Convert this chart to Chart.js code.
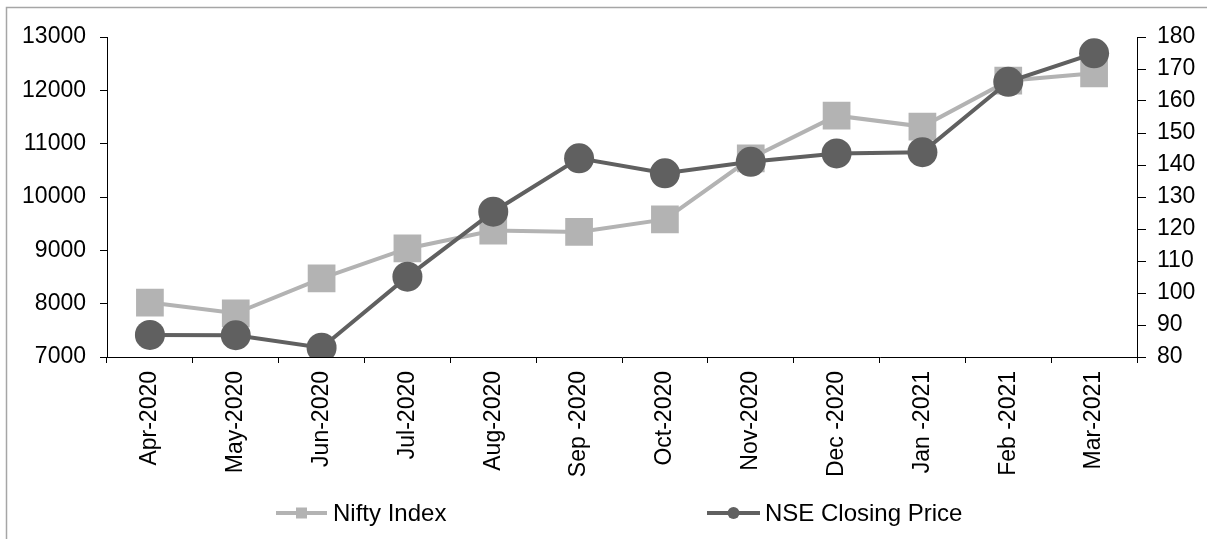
<!DOCTYPE html>
<html>
<head>
<meta charset="utf-8">
<script src="https://cdn.jsdelivr.net/npm/chart.js@4/dist/chart.umd.min.js"></script>
<style>
  html, body { margin: 0; padding: 0; background: #ffffff; }
  #wrap { position: relative; width: 1207px; height: 539px; }
</style>
</head>
<body>
<div id="wrap"><canvas id="c" width="1207" height="539"></canvas></div>
<script>
const categories = ['Apr-2020', 'May-2020', 'Jun-2020', 'Jul-2020', 'Aug-2020', 'Sep -2020',
                    'Oct-2020', 'Nov-2020', 'Dec -2020', 'Jan -2021', 'Feb -2021', 'Mar-2021'];
const niftyIndex = [8020, 7820, 8475, 9035, 9370, 9345, 9580, 10725, 11525, 11320, 12180, 12320];
const nseClosing = [86.9, 86.8, 82.9, 105.1, 125.4, 142.1, 137.4, 141.0, 143.6, 144.0, 166.0, 174.9];
const leftTicks = { min: 7000, max: 13000, step: 1000 };
const rightTicks = { min: 80, max: 180, step: 10 };

const FONT = '"Liberation Sans", Arial, sans-serif';
const NIFTY_COLOR = '#b3b3b3';
const NSE_COLOR = '#606060';

const frame = {
  id: 'frame',
  beforeDraw(chart) {
    const ctx = chart.ctx;
    ctx.save();
    ctx.strokeStyle = '#a6a6a6';
    ctx.lineWidth = 1.5;
    ctx.beginPath();
    ctx.moveTo(6.5, 600);
    ctx.lineTo(6.5, 7.5);
    ctx.lineTo(1300, 7.5);
    ctx.stroke();
    ctx.restore();
  }
};

const legendPlugin = {
  id: 'customLegend',
  afterDraw(chart) {
    const ctx = chart.ctx;
    const items = [
      { ds: chart.data.datasets[0], x0: 276, x1: 327, tx: 333 },
      { ds: chart.data.datasets[1], x0: 707, x1: 760, tx: 765 }
    ];
    const y = 513;
    ctx.save();
    items.forEach(it => {
      const ds = it.ds;
      ctx.strokeStyle = ds.borderColor;
      ctx.lineWidth = 4;
      ctx.beginPath();
      ctx.moveTo(it.x0, y);
      ctx.lineTo(it.x1, y);
      ctx.stroke();
      ctx.fillStyle = ds.pointBackgroundColor;
      const cx = (it.x0 + it.x1) / 2;
      if (ds.pointStyle === 'rect') {
        ctx.fillRect(cx - 5.5, y - 5.5, 11, 11);
      } else {
        ctx.beginPath();
        ctx.arc(cx, y, 6, 0, Math.PI * 2);
        ctx.fill();
      }
      ctx.fillStyle = '#000000';
      ctx.font = '24px ' + FONT;
      ctx.textBaseline = 'middle';
      ctx.textAlign = 'left';
      ctx.fillText(ds.label, it.tx, y + 1);
    });
    ctx.restore();
  }
};

const plainNumber = v => String(v);

new Chart(document.getElementById('c'), {
  type: 'line',
  data: {
    labels: categories,
    datasets: [
      {
        label: 'Nifty Index',
        data: niftyIndex,
        yAxisID: 'yLeft',
        borderColor: NIFTY_COLOR,
        backgroundColor: NIFTY_COLOR,
        pointBackgroundColor: NIFTY_COLOR,
        pointBorderColor: NIFTY_COLOR,
        pointBorderWidth: 0,
        pointStyle: 'rect',
        pointRadius: 19.6,
        pointHoverRadius: 19.6,
        borderWidth: 4,
        tension: 0,
        order: 2
      },
      {
        label: 'NSE Closing Price',
        data: nseClosing,
        yAxisID: 'yRight',
        borderColor: NSE_COLOR,
        backgroundColor: NSE_COLOR,
        pointBackgroundColor: NSE_COLOR,
        pointBorderColor: NSE_COLOR,
        pointBorderWidth: 0,
        pointStyle: 'circle',
        pointRadius: 15,
        pointHoverRadius: 15,
        borderWidth: 4,
        tension: 0,
        order: 1
      }
    ]
  },
  options: {
    responsive: false,
    animation: false,
    events: [],
    layout: { padding: { top: 37, bottom: 52, left: 0, right: 0 } },
    plugins: {
      legend: { display: false },
      tooltip: { enabled: false },
      title: { display: false }
    },
    scales: {
      x: {
        type: 'category',
        offset: true,
        grid: { display: true, drawOnChartArea: false, offset: true, tickLength: 6, color: '#000000', tickColor: '#000000' },
        border: { display: true, color: '#000000', width: 1 },
        ticks: {
          color: '#000000',
          font: { family: FONT, size: 23 },
          maxRotation: 90,
          minRotation: 90,
          padding: 8,
          autoSkip: false
        },
        afterFit(scale) { scale.height = 130; }
      },
      yLeft: {
        type: 'linear',
        position: 'left',
        min: leftTicks.min,
        max: leftTicks.max,
        grid: { display: true, drawOnChartArea: false, tickLength: 7, color: '#000000', tickColor: '#000000' },
        border: { display: true, color: '#000000', width: 1 },
        ticks: {
          stepSize: leftTicks.step,
          color: '#000000',
          font: { family: FONT, size: 23 },
          padding: 14,
          callback: plainNumber
        },
        afterFit(scale) { scale.width = 107; }
      },
      yRight: {
        type: 'linear',
        position: 'right',
        min: rightTicks.min,
        max: rightTicks.max,
        grid: { display: true, drawOnChartArea: false, tickLength: 9, color: '#000000', tickColor: '#000000' },
        border: { display: true, color: '#000000', width: 1 },
        ticks: {
          stepSize: rightTicks.step,
          color: '#000000',
          font: { family: FONT, size: 23 },
          padding: 11,
          callback: plainNumber
        },
        afterFit(scale) { scale.width = 70; }
      }
    }
  },
  plugins: [frame, legendPlugin]
});
</script>
</body>
</html>
